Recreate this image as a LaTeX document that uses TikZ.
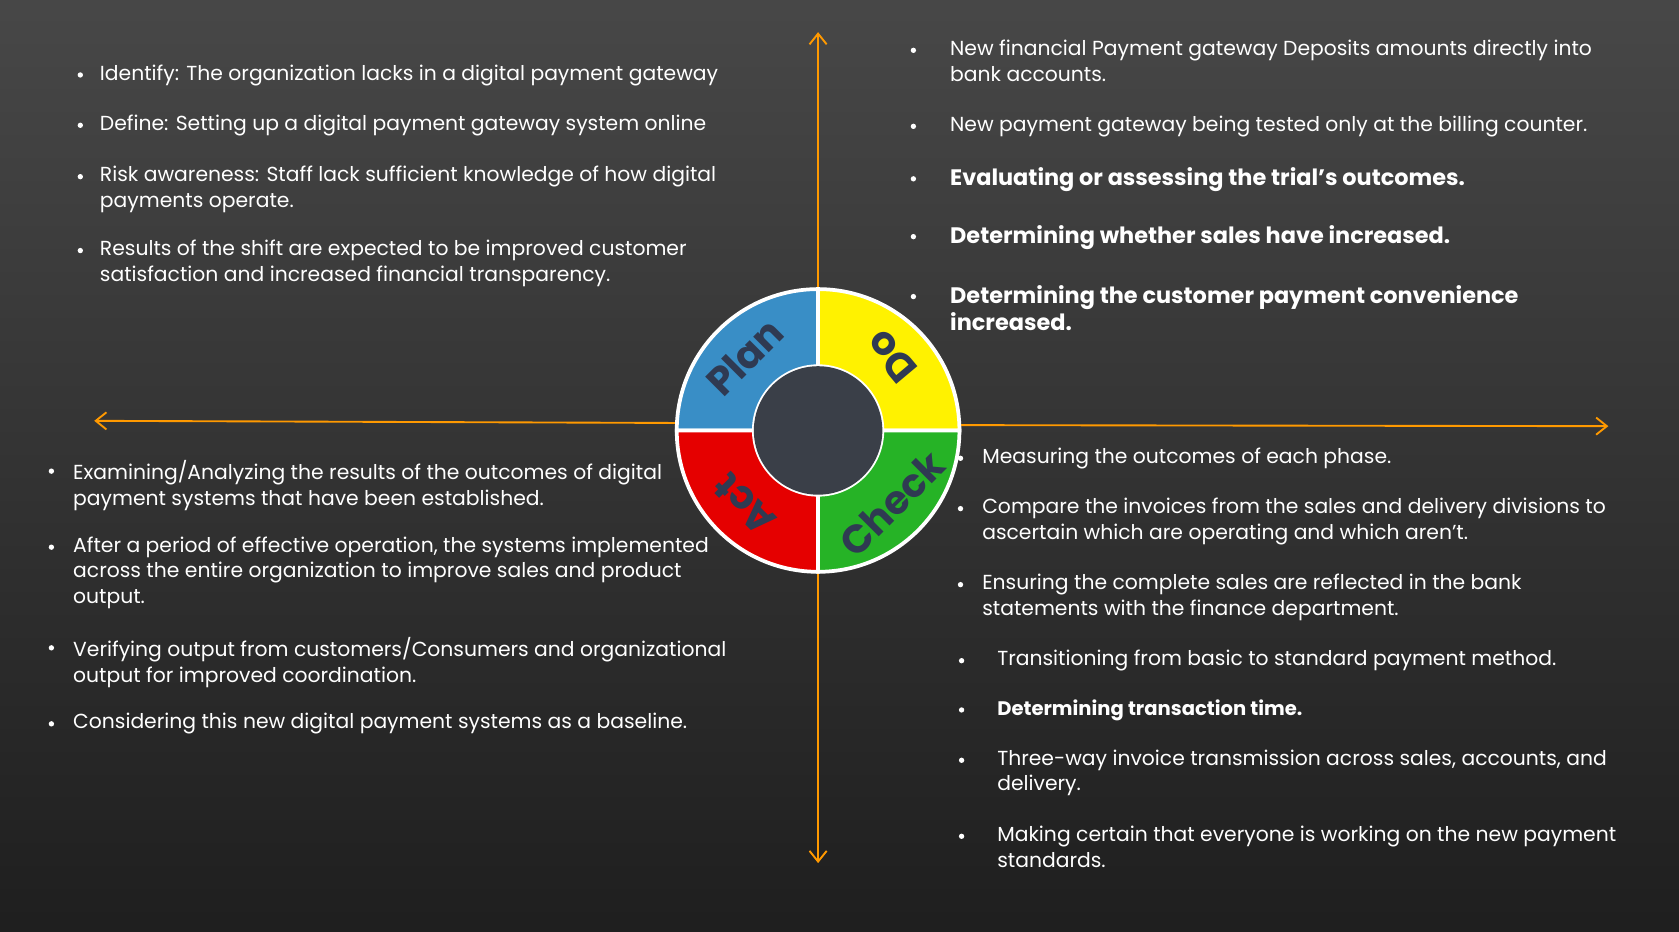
\documentclass[tikz,border=0pt]{standalone}
\usepackage{fontspec}
\setmainfont{Poppins}
\usetikzlibrary{arrows.meta}
\definecolor{labc}{HTML}{2F3A52}
\definecolor{hubc}{HTML}{3A3F48}
\tikzset{
 txt/.style={anchor=north west, text=white, font=\fontsize{10.8}{13.6}\selectfont, inner sep=0pt, align=left},
 btxt/.style={txt, font=\bfseries\fontsize{11.9}{14.4}\selectfont},
 bul/.style={circle, fill=white, inner sep=0pt, minimum size=1mm},
 axis/.style={draw=orange!80!yellow, line width=0.35mm, -{Straight Barb[length=2mm,width=3.2mm]}},
 seg/.style={draw=white, line width=0.7mm},
 lab/.style={text=labc, font=\bfseries\fontsize{21}{21}\selectfont}
}
\begin{document}
\begin{tikzpicture}[x=0.2mm,y=-0.2mm]
\shade[top color=black!72, bottom color=black!88] (0,0) rectangle (1568,870);
\useasboundingbox (0,0) rectangle (1568,870);
% axes
\coordinate (ct) at (764,272); \coordinate (cb) at (764,534);
\coordinate (cl) at (632,395); \coordinate (cr) at (894,397);
\coordinate (at) at (764,30); \coordinate (ab) at (764,806);
\coordinate (al) at (88,393); \coordinate (ar) at (1502,398);
\draw[axis] (ct) -- (at);
\draw[axis] (cb) -- (ab);
\draw[axis] (cl) -- (al);
\draw[axis] (cr) -- (ar);
% cycle
\begin{scope}[shift={(764,402)}, yscale=-1]
\filldraw[seg, fill=blue!40!cyan!55!gray] (90:132) arc (90:180:132) -- (180:60) arc (180:90:60) -- cycle;
\filldraw[seg, fill=yellow] (0:132) arc (0:90:132) -- (90:60) arc (90:0:60) -- cycle;
\filldraw[seg, fill=green!65!black!85] (270:132) arc (270:360:132) -- (0:60) arc (360:270:60) -- cycle;
\filldraw[seg, fill=red!90!black] (180:132) arc (180:270:132) -- (270:60) arc (270:180:60) -- cycle;
\fill[hubc] (0,0) circle (60);
\node[lab, rotate=45] (plan) at (135:97) {Plan};
\node[lab, rotate=130] (do) at (45:97) {Do};
\node[lab, rotate=45] (check) at (-45:97) {Check};
\node[lab, rotate=135] (act) at (-135:97) {Act};
\end{scope}
% top left
\foreach \y/\t in {60/{Identify: The organization lacks in a digital payment gateway},
 107/{Define: Setting up a digital payment gateway system online},
 155/{Risk awareness: Staff lack sufficient knowledge of how digital\\payments operate.},
 224/{Results of the shift are expected to be improved customer\\satisfaction and increased financial transparency.}}
 {\node[bul] at (75,\y+10) {}; \node[txt] at (93,\y) {\t};}
% top right
\foreach \y/\t in {37/{New financial Payment gateway Deposits amounts directly into\\bank accounts.},
 108/{ New payment gateway being tested only at the billing counter.}}
 {\node[bul] at (853,\y+10) {}; \node[txt] at (887,\y) {\t};}
\foreach \y/\t in {156/{Evaluating or assessing the trial’s outcomes.},
 210/{Determining whether sales have increased.},
 266/{Determining the customer payment convenience\\increased.}}
 {\node[bul] at (853,\y+11) {}; \node[btxt] at (887,\y) {\t};}
% bottom left
\foreach \y/\t in {430/{Examining/Analyzing the results of the outcomes of digital\\payment systems that have been established.},
 501/{After a period of effective operation, the systems implemented\\across the entire organization to improve sales and product\\output.},
 595/{Verifying output from customers/Consumers and organizational\\output for improved coordination.},
 666/{Considering this new digital payment systems as a baseline.}}
 {\node[bul] at (48,\y+10) {}; \node[txt] at (68,\y) {\t};}
% bottom right
\foreach \y/\t in {418/{Measuring the outcomes of each phase.},
 465/{Compare the invoices from the sales and delivery divisions to\\ascertain which are operating and which aren’t.},
 536/{ Ensuring the complete sales are reflected in the bank\\statements with the finance department.}}
 {\node[bul] at (897,\y+10) {}; \node[txt] at (917,\y) {\t};}
\foreach \y/\t in {607/{Transitioning from basic to standard payment method.},
 700/{Three-way invoice transmission across sales, accounts, and\\delivery.},
 771/{Making certain that everyone is working on the new payment\\standards.}}
 {\node[bul] at (898,\y+10) {}; \node[txt] at (931,\y) {\t};}
\node[bul] at (898,663) {};
\node[txt, font=\bfseries\fontsize{10.4}{13.6}\selectfont] at (931,653) {Determining transaction time.};
\end{tikzpicture}
\end{document}
